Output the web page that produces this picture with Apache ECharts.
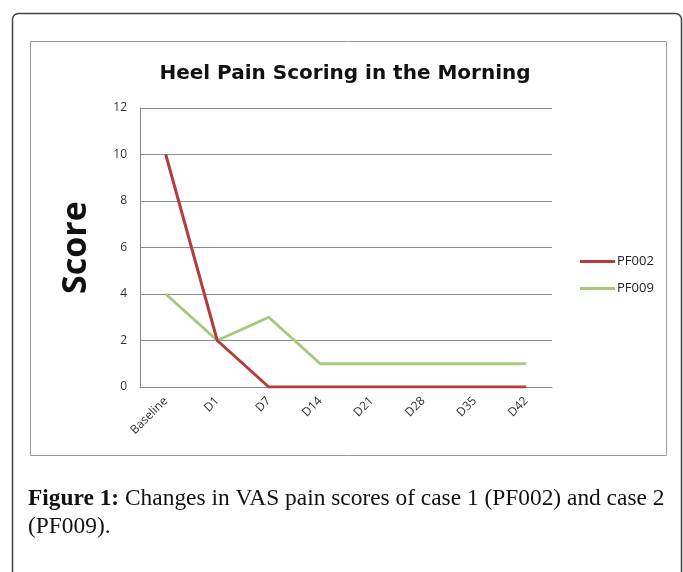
<!DOCTYPE html>
<html>
<head>
<meta charset="utf-8">
<script src="https://cdn.jsdelivr.net/npm/echarts@6/dist/echarts.min.js"></script>
<style>
html,body{margin:0;padding:0;background:#fff;}
#c{width:683px;height:572px;}
</style>
</head>
<body>
<div id="c"></div>
<script>
var categories = ['Baseline', 'D1', 'D7', 'D14', 'D21', 'D28', 'D35', 'D42'];
var pf002 = [10, 2, 0, 0, 0, 0, 0, 0];
var pf009 = [4, 2, 3, 1, 1, 1, 1, 1];
var seriesNames = ['PF002', 'PF009'];
var yTicks = {min: 0, max: 12, interval: 2};

var chart = echarts.init(document.getElementById('c'), null, {renderer: 'canvas'});
chart.setOption({
  backgroundColor: '#fff',
  animation: false,
  title: {
    text: 'Heel Pain Scoring in the Morning',
    left: 340, top: 59, textAlign: 'center',
    textStyle: {fontFamily: 'DejaVu Sans', fontWeight: 'bold', fontSize: 20, color: '#111'}
  },
  legend: {
    orient: 'vertical',
    left: 575, top: 250,
    itemWidth: 35, itemHeight: 3, itemGap: 14,
    icon: 'rect',
    textStyle: {fontFamily: 'Open Sans', fontSize: 13, color: '#222', padding: [0, 0, 0, -3]},
    data: seriesNames
  },
  grid: {left: 140, right: 131, top: 108, bottom: 185},
  xAxis: {
    type: 'category',
    data: categories,
    boundaryGap: true,
    axisLine: {lineStyle: {color: '#888', width: 1}},
    axisTick: {show: false},
    axisLabel: {rotate: 45, fontFamily: 'Open Sans', fontSize: 12, color: '#333', margin: 12, interval: 0}
  },
  yAxis: {
    type: 'value',
    min: yTicks.min, max: yTicks.max, interval: yTicks.interval,
    name: 'Score',
    nameLocation: 'middle',
    nameGap: 47,
    nameRotate: 90,
    nameTextStyle: {fontFamily: 'Open Sans', fontWeight: 'bold', fontSize: 34, color: '#111'},
    axisLine: {show: true, lineStyle: {color: '#888', width: 1}},
    axisTick: {show: false},
    splitLine: {lineStyle: {color: '#8a8a8a', width: 1}},
    axisLabel: {fontFamily: 'Open Sans', fontSize: 12, color: '#333', margin: 13}
  },
  series: [
    {name: seriesNames[0], type: 'line', data: pf002, symbol: 'none',
     lineStyle: {color: '#B43D3B', width: 3}, itemStyle: {color: '#B43D3B'}, z: 3},
    {name: seriesNames[1], type: 'line', data: pf009, symbol: 'none',
     lineStyle: {color: '#A7C97C', width: 3}, itemStyle: {color: '#A7C97C'}, z: 2}
  ],
  graphic: [
    {type: 'rect', shape: {x: 12.5, y: 13.5, width: 669, height: 600, r: 6},
     style: {fill: null, stroke: '#444', lineWidth: 1.5}, silent: true},
    {type: 'rect', shape: {x: 30.5, y: 41.5, width: 636, height: 414},
     style: {fill: null, stroke: '#999', lineWidth: 1}, silent: true},
    {type: 'text', left: 28, top: 485,
     style: {
       text: '{b|Figure 1:} Changes in VAS pain scores of case 1 (PF002) and case 2\n(PF009).',
       font: '23.4px "Liberation Serif"', fill: '#111', lineHeight: 28,
       rich: {b: {fontFamily: 'Liberation Serif', fontWeight: 'bold', fontSize: 23.4, fill: '#111', lineHeight: 28}}
     }}
  ]
});
</script>
</body>
</html>
